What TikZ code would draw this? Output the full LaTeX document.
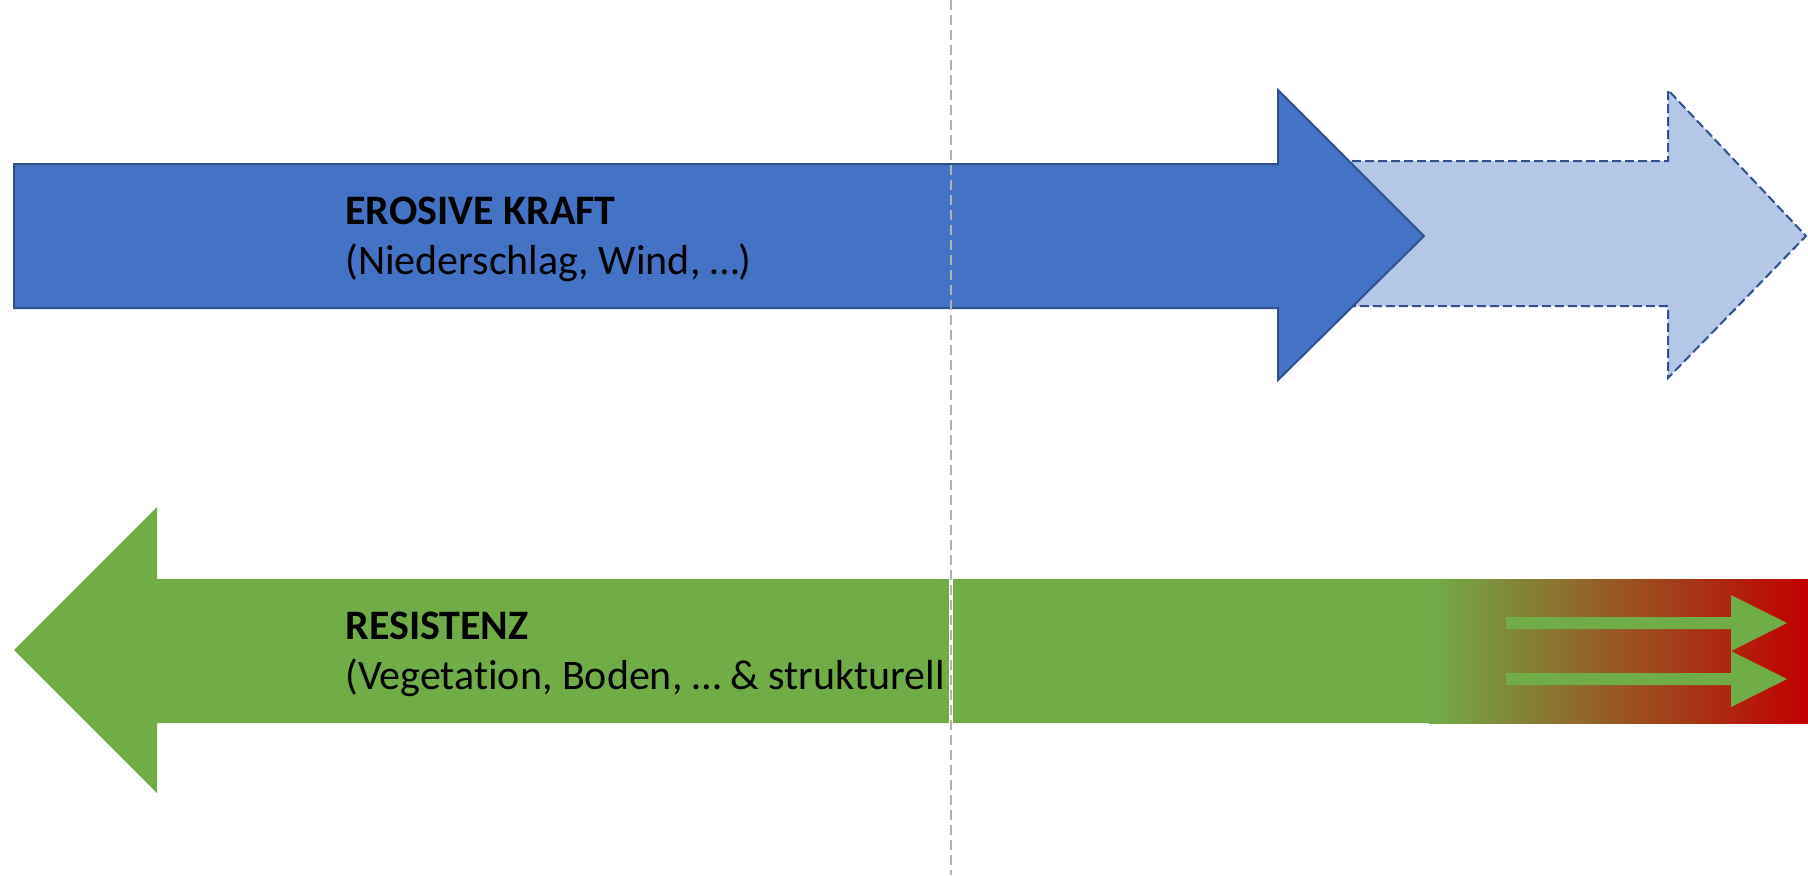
\documentclass[tikz,border=0pt]{standalone}
\usepackage{fontspec}
\setmainfont{Carlito}[Ligatures=CommonOff]
\definecolor{kraftblau}{HTML}{4472C4}
\definecolor{kraftrand}{HTML}{2F528F}
\definecolor{krafthell}{HTML}{B4C7E7}
\definecolor{resgruen}{HTML}{70AD47}
\definecolor{resrot}{HTML}{C00000}
\tikzset{
    titeltext/.style={anchor=base west, inner sep=0pt, font=\fontsize{21}{25}\selectfont\bfseries},
    infotext/.style={anchor=base west, inner sep=0pt, font=\fontsize{21}{25}\selectfont},
}
\begin{document}
\begin{tikzpicture}[x=0.5pt, y=-0.5pt] % 1 Einheit = 1 Bildpunkt, y nach unten

    \useasboundingbox (0,0) rectangle (1808,875);

    % 1. heller, gestrichelter Pfeil hinter dem blauen
    \draw[kraftrand, fill=krafthell, line width=1pt, dash pattern=on 4.5pt off 2pt]
        (1300,161) -- (1668,161) -- (1668,90) -- (1806,236) -- (1668,378) -- (1668,306) -- (1300,306) -- cycle;

    % 2. blauer Pfeil nach rechts
    \draw[kraftrand, fill=kraftblau, line width=1pt]
        (14,164) -- (1278,164) -- (1278,90) -- (1424,236) -- (1278,380) -- (1278,308) -- (14,308) -- cycle;

    % 3. gruener Pfeil nach links, rechts in Rot auslaufend
    \fill[resgruen] (14,650) -- (157,507) -- (157,579) -- (1430,579) -- (1430,723) -- (157,723) -- (157,793) -- cycle;
    \shade[left color=resgruen, right color=resrot] (1429,579) rectangle (1808,723);

    % zwei kleine Pfeile im roten Teil
    \foreach \y in {623,679} {
        \fill[resgruen] (1506,\y-6) -- (1731,\y-6) -- (1731,\y-28) -- (1787,\y) -- (1731,\y+28) -- (1731,\y+6) -- (1506,\y+6) -- cycle;
    }

    % 4. Beschriftungen
    \node[titeltext] (kraft) at (345,224) {EROSIVE KRAFT};
    \node[infotext] (kraftinfo) at (345,274) {(Niederschlag, Wind, …)};

    \begin{scope}
        \clip (0,0) rectangle (949,875); % Text endet an der Fuge
        \node[titeltext] (resistenz) at (345,639) {RESISTENZ};
        \node[infotext] (resistenzinfo) at (345,689) {(Vegetation, Boden, … \& strukturell};
    \end{scope}

    % 5. weisse Fuge und gestrichelte Mittellinie
    \coordinate (achseoben) at (951,0);
    \coordinate (achseunten) at (951,875);
    \coordinate (fugeoben) at (951,579);
    \coordinate (fugeunten) at (951,723);
    \draw[white, line width=2pt] (fugeoben) -- (fugeunten);
    \draw[gray!60, line width=1pt, dash pattern=on 5pt off 2.5pt] (achseoben) -- (achseunten);

\end{tikzpicture}
\end{document}
